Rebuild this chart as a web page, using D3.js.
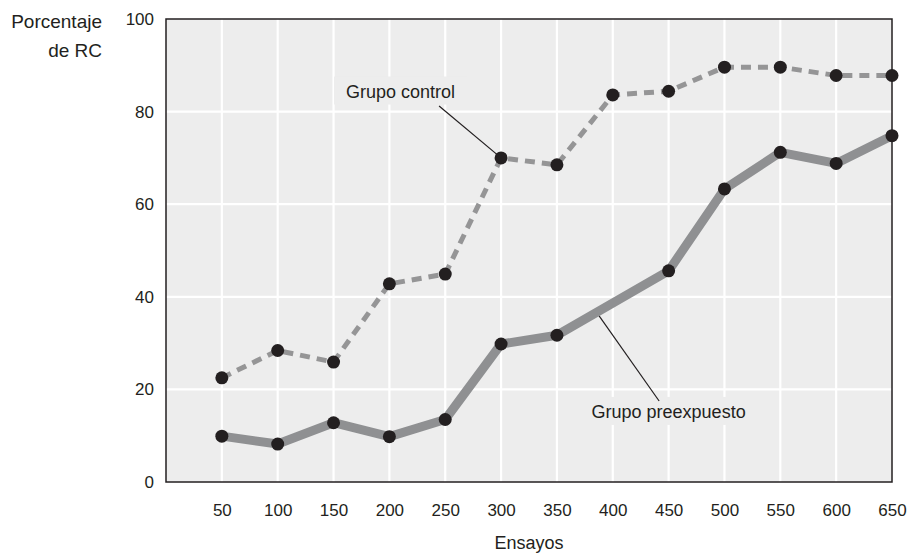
<!DOCTYPE html>
<html>
<head>
<meta charset="utf-8">
<script src="https://cdn.jsdelivr.net/npm/d3@7"></script>
<style>
  html, body { margin: 0; padding: 0; background: #fff; overflow: hidden; }
  svg { display: block; width: 100vw; height: 100vh; }
  svg text { font-family: "Liberation Sans", Arial, sans-serif; fill: #231f20; }
</style>
</head>
<body>
<svg id="chart"></svg>
<script>
const width = 910;
const height = 555;
const margin = { top: 19, right: 18, bottom: 73, left: 166 };
const innerWidth = width - margin.left - margin.right;
const innerHeight = height - margin.top - margin.bottom;

// data
const ensayos = [50, 100, 150, 200, 250, 300, 350, 400, 450, 500, 550, 600, 650];
const grupoControl = [22.5, 28.4, 25.9, 42.8, 44.9, 70.0, 68.5, 83.6, 84.4, 89.6, 89.6, 87.8, 87.8];
// no point at 400 for this group, the line goes straight from 350 to 450
const grupoPreexpuesto = [9.9, 8.2, 12.8, 9.8, 13.5, 29.8, 31.7, null, 45.6, 63.3, 71.2, 68.8, 74.8];
const yTicks = [0, 20, 40, 60, 80, 100];

// viewBox so the whole chart always fits the window
const svg = d3.select('#chart')
  .attr('viewBox', `0 0 ${width} ${height}`)
  .attr('preserveAspectRatio', 'xMidYMin meet')

const g = svg.append('g')
  .attr('transform', `translate(${margin.left},${margin.top})`)

const x = d3.scaleLinear()
  .domain([0, 650])
  .range([0, innerWidth])

const y = d3.scaleLinear()
  .domain([0, 100])
  .range([innerHeight, 0])

// panel
g.append('rect')
  .attr('width', innerWidth)
  .attr('height', innerHeight)
  .attr('fill', '#ededed')

// grid
g.append('g')
  .selectAll('line')
  .data(ensayos.slice(0, -1))
  .enter()
  .append('line')
  .attr('x1', d => x(d))
  .attr('x2', d => x(d))
  .attr('y1', 0)
  .attr('y2', innerHeight)
  .attr('stroke', '#fff')
  .attr('stroke-width', 2.2)

g.append('g')
  .selectAll('line')
  .data(yTicks.slice(1, -1))
  .enter()
  .append('line')
  .attr('x1', 0)
  .attr('x2', innerWidth)
  .attr('y1', d => y(d))
  .attr('y2', d => y(d))
  .attr('stroke', '#fff')
  .attr('stroke-width', 2.2)

// axes (labels only, no tick marks)
const xAxis = d3.axisBottom(x).tickValues(ensayos).tickSize(0).tickPadding(22)
const yAxis = d3.axisLeft(y).tickValues(yTicks).tickSize(0).tickPadding(12)

const bottomAxisGroup = g.append('g')
  .attr('transform', `translate(0,${innerHeight})`)
  .call(xAxis)
  .attr('font-family', '"Liberation Sans", Arial, sans-serif')
  .attr('font-size', 17)
bottomAxisGroup.select('.domain').remove()
bottomAxisGroup.selectAll('text').attr('fill', '#231f20')

const leftAxisGroup = g.append('g')
  .call(yAxis)
  .attr('font-family', '"Liberation Sans", Arial, sans-serif')
  .attr('font-size', 17)
leftAxisGroup.select('.domain').remove()
leftAxisGroup.selectAll('text').attr('fill', '#231f20')

// annotation labels (drawn before the lines, with panel-coloured backing)
function annotate(label, tx, ty, fromX, fromY, toX, toY) {
  const t = g.append('text')
    .attr('x', x(tx))
    .attr('y', y(ty))
    .attr('dy', '0.35em')
    .attr('text-anchor', 'middle')
    .attr('font-size', 18)
    .text(label)
  const bb = t.node().getBBox()
  g.insert('rect', () => t.node())
    .attr('x', bb.x - 12)
    .attr('y', bb.y - 5)
    .attr('width', bb.width + 24)
    .attr('height', bb.height + 8)
    .attr('fill', '#ededed')
  g.append('line')
    .attr('x1', x(fromX))
    .attr('y1', y(fromY))
    .attr('x2', x(toX))
    .attr('y2', y(toY))
    .attr('stroke', '#231f20')
    .attr('stroke-width', 1.2)
}

annotate('Grupo control', 210, 84.4, 244.5, 81.2, 300, 70.0)
annotate('Grupo preexpuesto', 450, 15.2, 441.5, 17.5, 386.5, 36.3)

// border
g.append('rect')
  .attr('width', innerWidth)
  .attr('height', innerHeight)
  .attr('fill', 'none')
  .attr('stroke', '#231f20')
  .attr('stroke-width', 1.5)

const line = d3.line()
  .x(d => x(d[0]))
  .y(d => y(d[1]))

const controlPts = ensayos.map((e, i) => [e, grupoControl[i]])
const preexPts = ensayos.map((e, i) => [e, grupoPreexpuesto[i]]).filter(d => d[1] != null)

g.append('path')
  .datum(preexPts)
  .attr('d', line)
  .attr('fill', 'none')
  .attr('stroke', '#8f9092')
  .attr('stroke-width', 9)
  .attr('stroke-linejoin', 'round')

g.append('path')
  .datum(controlPts)
  .attr('d', line)
  .attr('fill', 'none')
  .attr('stroke', '#959596')
  .attr('stroke-width', 5)
  .attr('stroke-dasharray', '10,7')

g.append('g')
  .selectAll('circle')
  .data(controlPts.concat(preexPts))
  .enter()
  .append('circle')
  .attr('cx', d => x(d[0]))
  .attr('cy', d => y(d[1]))
  .attr('r', 6.5)
  .attr('fill', '#231f20')

// axis titles
svg.append('text')
  .attr('x', 102)
  .attr('y', 28)
  .attr('text-anchor', 'end')
  .attr('font-size', 19)
  .text('Porcentaje')

svg.append('text')
  .attr('x', 102)
  .attr('y', 57)
  .attr('text-anchor', 'end')
  .attr('font-size', 19)
  .text('de RC')

svg.append('text')
  .attr('x', margin.left + innerWidth / 2)
  .attr('y', 549)
  .attr('text-anchor', 'middle')
  .attr('font-size', 18)
  .text('Ensayos')
</script>
</body>
</html>
